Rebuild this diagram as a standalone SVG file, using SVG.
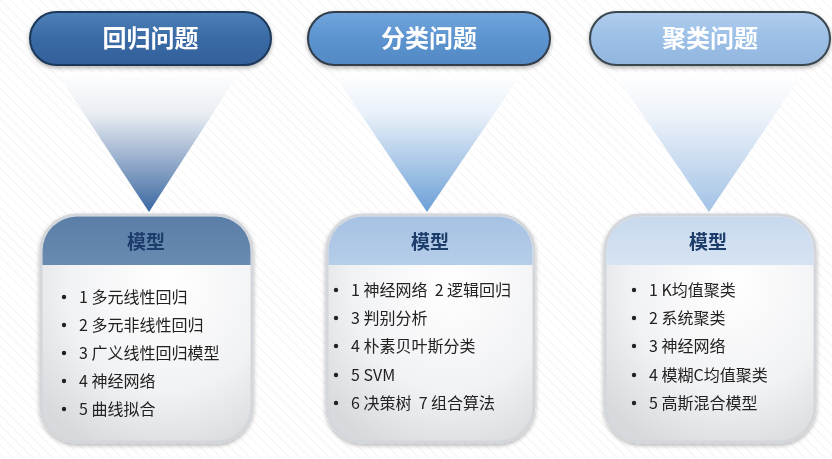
<svg xmlns="http://www.w3.org/2000/svg" width="832" height="459" viewBox="0 0 832 459">
<defs>
<pattern id="stripes" width="7" height="7" patternUnits="userSpaceOnUse" patternTransform="rotate(-45)">
<rect width="7" height="7" fill="#ffffff"/>
<line x1="0" y1="0" x2="0" y2="7" stroke="#eeeeee" stroke-width="1.2"/>
</pattern>
<linearGradient id="pill1" x1="0" y1="0" x2="0" y2="1">
<stop offset="0" stop-color="#4f80b8"/><stop offset="0.5" stop-color="#3a6aa4"/><stop offset="1" stop-color="#33609a"/>
</linearGradient>
<linearGradient id="pill2" x1="0" y1="0" x2="0" y2="1">
<stop offset="0" stop-color="#72a5dc"/><stop offset="0.5" stop-color="#5c94d0"/><stop offset="1" stop-color="#5389c4"/>
</linearGradient>
<linearGradient id="pill3" x1="0" y1="0" x2="0" y2="1">
<stop offset="0" stop-color="#b0cdee"/><stop offset="0.5" stop-color="#9bbfe6"/><stop offset="1" stop-color="#92b6de"/>
</linearGradient>
<linearGradient id="tri1" x1="0" y1="0" x2="0" y2="1">
<stop offset="0" stop-color="#ffffff"/><stop offset="0.3" stop-color="#e8ecf2"/><stop offset="1" stop-color="#3a67a0"/>
</linearGradient>
<linearGradient id="tri2" x1="0" y1="0" x2="0" y2="1">
<stop offset="0" stop-color="#ffffff"/><stop offset="0.3" stop-color="#e8f0f9"/><stop offset="1" stop-color="#6b9fd6"/>
</linearGradient>
<linearGradient id="tri3" x1="0" y1="0" x2="0" y2="1">
<stop offset="0" stop-color="#ffffff"/><stop offset="0.3" stop-color="#eef3fa"/><stop offset="1" stop-color="#a2c2e5"/>
</linearGradient>
<linearGradient id="hd1" x1="0" y1="0" x2="0" y2="1">
<stop offset="0" stop-color="#5a7ea8"/><stop offset="1" stop-color="#6a8bb0"/>
</linearGradient>
<linearGradient id="hd2" x1="0" y1="0" x2="0" y2="1">
<stop offset="0" stop-color="#a6c2e3"/><stop offset="1" stop-color="#b5cde8"/>
</linearGradient>
<linearGradient id="hd3" x1="0" y1="0" x2="0" y2="1">
<stop offset="0" stop-color="#c8d9ee"/><stop offset="1" stop-color="#d6e3f2"/>
</linearGradient>
<radialGradient id="body" cx="0.6" cy="0.3" r="0.8">
<stop offset="0" stop-color="#ffffff"/><stop offset="0.6" stop-color="#f1f2f4"/><stop offset="1" stop-color="#d8d9dc"/>
</radialGradient>
<filter id="sh" x="-10%" y="-10%" width="120%" height="130%">
<feGaussianBlur in="SourceAlpha" stdDeviation="2"/>
<feOffset dy="2" result="b"/>
<feFlood flood-color="#000000" flood-opacity="0.3"/>
<feComposite in2="b" operator="in"/>
<feMerge><feMergeNode/><feMergeNode in="SourceGraphic"/></feMerge>
</filter>
</defs>
<style>
.pilltxt{font-family:"Noto Sans CJK SC","Noto Sans",sans-serif;font-size:24px;font-weight:bold;fill:#ffffff;text-anchor:middle}
.hdtxt{font-family:"Noto Sans CJK SC","Noto Sans",sans-serif;font-size:19px;font-weight:bold;fill:#1e3c6a;text-anchor:middle}
.item{font-family:"Noto Sans CJK SC","Noto Sans",sans-serif;font-size:16px;fill:#222222;white-space:pre}
.box{fill:url(#body);stroke:#d3d6da;stroke-width:3}
.dot{fill:#222222}
</style>
<rect width="832" height="459" fill="url(#stripes)"/>

<g id="connectors">
<polygon points="57,73 239,73 149,212" fill="url(#tri1)"/>
<polygon points="333,73 522,73 427,212" fill="url(#tri2)"/>
<polygon points="614,73 803,73 709,212" fill="url(#tri3)"/>
</g>

<g id="pill-regression" filter="url(#sh)">
<rect x="30" y="12" width="241" height="53" rx="26.5" fill="url(#pill1)" stroke="#1c3858" stroke-width="2"/>
<text class="pilltxt" x="150.5" y="47">回归问题</text>
</g>
<g id="pill-classification" filter="url(#sh)">
<rect x="308" y="12" width="242" height="53" rx="26.5" fill="url(#pill2)" stroke="#303c48" stroke-width="2"/>
<text class="pilltxt" x="429" y="47">分类问题</text>
</g>
<g id="pill-clustering" filter="url(#sh)">
<rect x="590" y="12" width="240" height="53" rx="26.5" fill="url(#pill3)" stroke="#3a4650" stroke-width="2"/>
<text class="pilltxt" x="710" y="47">聚类问题</text>
</g>

<g id="box-regression" filter="url(#sh)">
<rect class="box" x="41" y="215" width="211" height="227" rx="36"/>
<path d="M42.5,265 V251 A34.5,34.5 0 0 1 77,216.5 H216 A34.5,34.5 0 0 1 250.5,251 V265 Z" fill="url(#hd1)"/>
<text class="hdtxt" x="146" y="249">模型</text>
<circle class="dot" cx="64" cy="297" r="2.2"/><text class="item" x="79" y="303">1 多元线性回归</text>
<circle class="dot" cx="64" cy="325" r="2.2"/><text class="item" x="79" y="331">2 多元非线性回归</text>
<circle class="dot" cx="64" cy="353" r="2.2"/><text class="item" x="79" y="359">3 广义线性回归模型</text>
<circle class="dot" cx="64" cy="381" r="2.2"/><text class="item" x="79" y="387">4 神经网络</text>
<circle class="dot" cx="64" cy="409" r="2.2"/><text class="item" x="79" y="415">5 曲线拟合</text>
</g>

<g id="box-classification" filter="url(#sh)">
<rect class="box" x="327" y="215" width="207" height="227" rx="36"/>
<path d="M328.5,265 V251 A34.5,34.5 0 0 1 363,216.5 H498 A34.5,34.5 0 0 1 532.5,251 V265 Z" fill="url(#hd2)"/>
<text class="hdtxt" x="430" y="249">模型</text>
<circle class="dot" cx="336" cy="290" r="2.2"/><text class="item" x="351" y="296" xml:space="preserve">1 神经网络  2 逻辑回归</text>
<circle class="dot" cx="336" cy="318" r="2.2"/><text class="item" x="351" y="324">3 判别分析</text>
<circle class="dot" cx="336" cy="346" r="2.2"/><text class="item" x="351" y="352">4 朴素贝叶斯分类</text>
<circle class="dot" cx="336" cy="375" r="2.2"/><text class="item" x="351" y="381">5 SVM</text>
<circle class="dot" cx="336" cy="403" r="2.2"/><text class="item" x="351" y="409" xml:space="preserve">6 决策树  7 组合算法</text>
</g>

<g id="box-clustering" filter="url(#sh)">
<rect class="box" x="605" y="215" width="210" height="227" rx="36"/>
<path d="M606.5,265 V251 A34.5,34.5 0 0 1 641,216.5 H779 A34.5,34.5 0 0 1 813.5,251 V265 Z" fill="url(#hd3)"/>
<text class="hdtxt" x="708" y="249">模型</text>
<circle class="dot" cx="634" cy="290" r="2.2"/><text class="item" x="649" y="296">1 K均值聚类</text>
<circle class="dot" cx="634" cy="318" r="2.2"/><text class="item" x="649" y="324">2 系统聚类</text>
<circle class="dot" cx="634" cy="346" r="2.2"/><text class="item" x="649" y="352">3 神经网络</text>
<circle class="dot" cx="634" cy="375" r="2.2"/><text class="item" x="649" y="381">4 模糊C均值聚类</text>
<circle class="dot" cx="634" cy="403" r="2.2"/><text class="item" x="649" y="409">5 高斯混合模型</text>
</g>
</svg>
